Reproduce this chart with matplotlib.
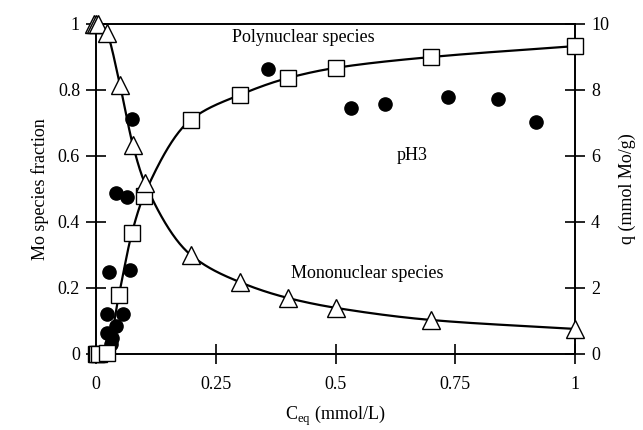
import matplotlib
matplotlib.use("Agg")
import matplotlib.pyplot as plt
import numpy as np

plt.rcParams['font.family'] = ['Liberation Serif', 'DejaVu Serif']
plt.rcParams['mathtext.fontset'] = 'custom'
plt.rcParams['mathtext.rm'] = 'Liberation Serif'

# Polynuclear species fraction (squares)
poly_x = [0.0, 0.003, 0.006, 0.022, 0.048, 0.075, 0.10, 0.198, 0.30, 0.40, 0.50, 0.70, 1.0]
poly_y = [0.0, 0.0, 0.0, 0.003, 0.18, 0.367, 0.48, 0.71, 0.785, 0.836, 0.867, 0.90, 0.933]

# Mononuclear species fraction (triangles)
mono_x = [-0.004, 0.0, 0.004, 0.022, 0.05, 0.077, 0.102, 0.198, 0.30, 0.40, 0.50, 0.70, 1.0]
mono_y = [1.0, 1.0, 1.0, 0.973, 0.815, 0.633, 0.518, 0.30, 0.218, 0.17, 0.14, 0.103, 0.076]

# Adsorbed amount q (filled circles, right axis)
q_x = [0.031, 0.033, 0.023, 0.042, 0.023, 0.056, 0.027, 0.071, 0.042, 0.065, 0.075,
       0.36, 0.532, 0.603, 0.735, 0.839, 0.919]
q_y = [0.30, 0.48, 0.64, 0.85, 1.21, 1.21, 2.48, 2.55, 4.88, 4.76, 7.12,
       8.64, 7.45, 7.58, 7.79, 7.73, 7.03]

x_ticks = [0, 0.25, 0.5, 0.75, 1]
x_labels = ['0', '0.25', '0.5', '0.75', '1']
left_ticks = [0, 0.2, 0.4, 0.6, 0.8, 1]
left_labels = ['0', '0.2', '0.4', '0.6', '0.8', '1']
right_ticks = [0, 2, 4, 6, 8, 10]


def pchip_curve(x, y, n=400):
    """Shape-preserving cubic curve through the given points (for drawing)."""
    x = np.asarray(x, float)
    y = np.asarray(y, float)
    h = np.diff(x)
    d = np.diff(y) / h
    m = np.zeros_like(x)
    for k in range(1, len(x) - 1):
        if d[k - 1] * d[k] > 0:
            w1 = 2 * h[k] + h[k - 1]
            w2 = h[k] + 2 * h[k - 1]
            m[k] = (w1 + w2) / (w1 / d[k - 1] + w2 / d[k])
    m[0] = d[0]
    m[-1] = d[-1]
    xs = np.linspace(x[0], x[-1], n)
    idx = np.clip(np.searchsorted(x, xs) - 1, 0, len(x) - 2)
    t = (xs - x[idx]) / h[idx]
    h00 = 2 * t**3 - 3 * t**2 + 1
    h10 = t**3 - 2 * t**2 + t
    h01 = -2 * t**3 + 3 * t**2
    h11 = t**3 - t**2
    ys = h00 * y[idx] + h10 * h[idx] * m[idx] + h01 * y[idx + 1] + h11 * h[idx] * m[idx + 1]
    return xs, ys


fig = plt.figure(figsize=(6.43, 4.30), dpi=100)
ax = fig.add_axes([96/643, 1-354/430, 479/643, 330/430])
ax2 = ax.twinx()

px, py = pchip_curve(poly_x, poly_y)
mx, my = pchip_curve(mono_x, mono_y)
ax.plot(px, py, '-', color='black', lw=1.6, clip_on=False, zorder=2)
ax.plot(mx, my, '-', color='black', lw=1.6, clip_on=False, zorder=2)
ax.plot(poly_x, poly_y, 's', ms=11, mfc='white', mec='black', mew=1.0,
        clip_on=False, zorder=3)
ax.plot(mono_x, mono_y, '^', ms=12.5, mfc='white', mec='black', mew=1.0,
        clip_on=False, zorder=3)
ax2.plot(q_x, q_y, 'o', color='black', ms=9.5, clip_on=False, zorder=4)

ax.set_xlim(0, 1)
ax.set_ylim(0, 1)
ax2.set_ylim(0, 10)

ax.set_xticks(x_ticks)
ax.set_xticklabels(x_labels)
ax.set_yticks(left_ticks)
ax.set_yticklabels(left_labels)
ax2.set_yticks(right_ticks)

for a in (ax, ax2):
    a.tick_params(direction='inout', length=15, width=1.2, labelsize=13, pad=4)
    for s in a.spines.values():
        s.set_linewidth(1.2)
ax.tick_params(axis='x', pad=8)

ax.set_xlabel(r'C$_{\mathrm{eq}}$ (mmol/L)', fontsize=13, labelpad=8)
ax.set_ylabel('Mo species fraction', fontsize=13, labelpad=6)
ax2.set_ylabel('q (mmol Mo/g)', fontsize=13, labelpad=7)

ax.text(0.284, 0.958, 'Polynuclear species', fontsize=13, ha='left', va='center')
ax.text(0.66, 0.603, 'pH3', fontsize=13, ha='center', va='center')
ax.text(0.407, 0.245, 'Mononuclear species', fontsize=13, ha='left', va='center')

ax.set_zorder(ax2.get_zorder() + 1)
ax.patch.set_visible(False)

fig.savefig('out.png', dpi=100)
